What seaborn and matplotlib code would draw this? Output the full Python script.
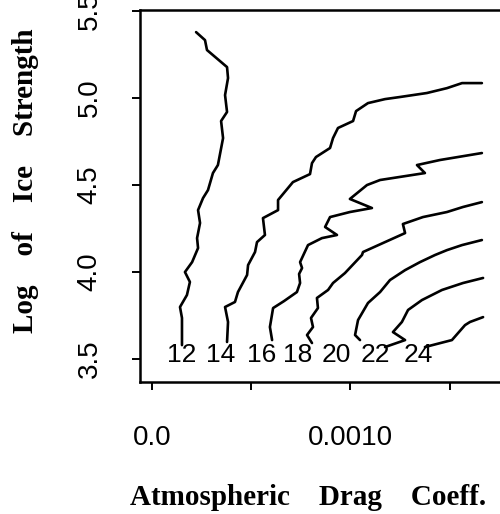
import matplotlib
matplotlib.use("Agg")
import matplotlib.pyplot as plt
import pandas as pd
import seaborn as sns

# Contour levels of the response surface
levels = [12, 14, 16, 18, 20, 22, 24]

# Contour paths: atmospheric drag coefficient (in units of 1e-3) vs log ice strength
drag_12 = [0.222, 0.267, 0.277, 0.378, 0.383, 0.368, 0.378, 0.348, 0.358, 0.332,
           0.307, 0.282, 0.257, 0.232, 0.242, 0.227, 0.232, 0.202, 0.166, 0.191,
           0.176, 0.141, 0.151, 0.151]
strength_12 = [5.379, 5.333, 5.276, 5.178, 5.115, 5.017, 4.920, 4.868, 4.770, 4.615,
               4.569, 4.471, 4.425, 4.356, 4.282, 4.195, 4.138, 4.057, 4.000, 3.943,
               3.868, 3.799, 3.736, 3.580]

drag_14 = [0.378, 0.383, 0.368, 0.418, 0.433, 0.479, 0.484, 0.519, 0.529, 0.569,
           0.559, 0.635, 0.635, 0.710, 0.796, 0.806, 0.826, 0.897, 0.912, 0.937,
           1.013, 1.028, 1.088, 1.174, 1.249, 1.385, 1.486, 1.562, 1.662]
strength_14 = [3.598, 3.713, 3.799, 3.828, 3.885, 3.983, 4.040, 4.115, 4.172, 4.213,
               4.310, 4.356, 4.414, 4.517, 4.563, 4.626, 4.661, 4.713, 4.770, 4.828,
               4.868, 4.925, 4.971, 4.994, 5.006, 5.029, 5.057, 5.086, 5.086]

drag_16 = [0.605, 0.594, 0.610, 0.665, 0.730, 0.746, 0.741, 0.756, 0.746, 0.786,
           0.856, 0.932, 0.872, 0.897, 0.997, 1.108, 0.997, 1.083, 1.149, 1.375,
           1.335, 1.451, 1.662]
strength_16 = [3.609, 3.684, 3.793, 3.833, 3.885, 3.937, 3.989, 4.023, 4.057, 4.155,
               4.195, 4.213, 4.259, 4.316, 4.345, 4.368, 4.420, 4.500, 4.529, 4.569,
               4.615, 4.644, 4.684]

drag_18 = [0.806, 0.781, 0.811, 0.801, 0.836, 0.831, 0.887, 0.912, 0.972, 1.058,
           1.063, 1.164, 1.275, 1.264, 1.365, 1.486, 1.567, 1.662]
strength_18 = [3.592, 3.638, 3.684, 3.736, 3.793, 3.851, 3.897, 3.937, 3.994, 4.098,
               4.115, 4.167, 4.224, 4.276, 4.316, 4.345, 4.374, 4.402]

drag_20 = [1.048, 1.023, 1.038, 1.088, 1.149, 1.199, 1.275, 1.350, 1.426, 1.486,
           1.562, 1.662]
strength_20 = [3.609, 3.638, 3.724, 3.822, 3.885, 3.954, 4.011, 4.057, 4.098, 4.126,
               4.155, 4.184]

drag_22 = [1.174, 1.275, 1.214, 1.259, 1.290, 1.360, 1.461, 1.567, 1.668]
strength_22 = [3.569, 3.609, 3.655, 3.713, 3.782, 3.839, 3.897, 3.937, 3.966]

drag_24 = [1.375, 1.511, 1.577, 1.602, 1.668]
strength_24 = [3.569, 3.609, 3.695, 3.713, 3.741]

# Where each level's label sits along the bottom of the plot
label_drag = [0.151, 0.348, 0.554, 0.736, 0.927, 1.123, 1.340]
label_strength = 3.522

x_ticks = [0.0, 0.0005, 0.0010, 0.0015]
x_tick_labels = ["0.0", "", "0.0010", ""]
y_ticks = [3.5, 4.0, 4.5, 5.0, 5.5]
y_tick_labels = ["3.5", "4.0", "4.5", "5.0", "5.5"]

paths = {
    12: (drag_12, strength_12),
    14: (drag_14, strength_14),
    16: (drag_16, strength_16),
    18: (drag_18, strength_18),
    20: (drag_20, strength_20),
    22: (drag_22, strength_22),
    24: (drag_24, strength_24),
}

frames = []
for lvl in levels:
    d, s = paths[lvl]
    frames.append(pd.DataFrame({
        "drag": [v * 1e-3 for v in d],
        "strength": s,
        "level": lvl,
    }))
contours = pd.concat(frames, ignore_index=True)

sns.set_theme(style="ticks")
plt.rcParams["font.family"] = ["Liberation Sans", "DejaVu Sans"]

fig = plt.figure(figsize=(5.0, 5.14), dpi=100)
ax = fig.add_axes([0.28, 0.2568, 0.76, 0.7237])

sns.lineplot(data=contours, x="drag", y="strength", units="level",
             estimator=None, sort=False, color="black", linewidth=1.9,
             legend=False, ax=ax)

for lvl, xd in zip(levels, label_drag):
    ax.text(xd * 1e-3, label_strength, str(lvl), ha="center", va="center",
            fontsize=19, color="black", family="Liberation Sans")

ax.set_xlim(-0.0605e-3, 1.854e-3)
ax.set_ylim(3.368, 5.506)

ax.set_xticks(x_ticks, x_tick_labels)
ax.set_yticks(y_ticks, y_tick_labels)
ax.tick_params(axis="both", direction="out", length=6, width=1.4,
               color="black", labelcolor="black", labelsize=20)
ax.tick_params(axis="x", pad=25)
ax.tick_params(axis="y", pad=21, labelrotation=90)
for lab in ax.get_yticklabels():
    lab.set_va("center")

for side in ["left", "bottom", "top", "right"]:
    ax.spines[side].set_visible(True)
    ax.spines[side].set_color("black")
    ax.spines[side].set_linewidth(1.8)

label_font = dict(family="Liberation Serif", weight="bold", size=21, color="black")
ax.set_xlabel("Atmospheric    Drag    Coeff.", **label_font)
ax.set_ylabel("Log    of    Ice    Strength", **label_font)
ax.xaxis.set_label_coords(0.443, -0.274)
ax.yaxis.set_label_coords(-0.265, 0.540)

ax.grid(False)
fig.savefig("out.png", dpi=100)
